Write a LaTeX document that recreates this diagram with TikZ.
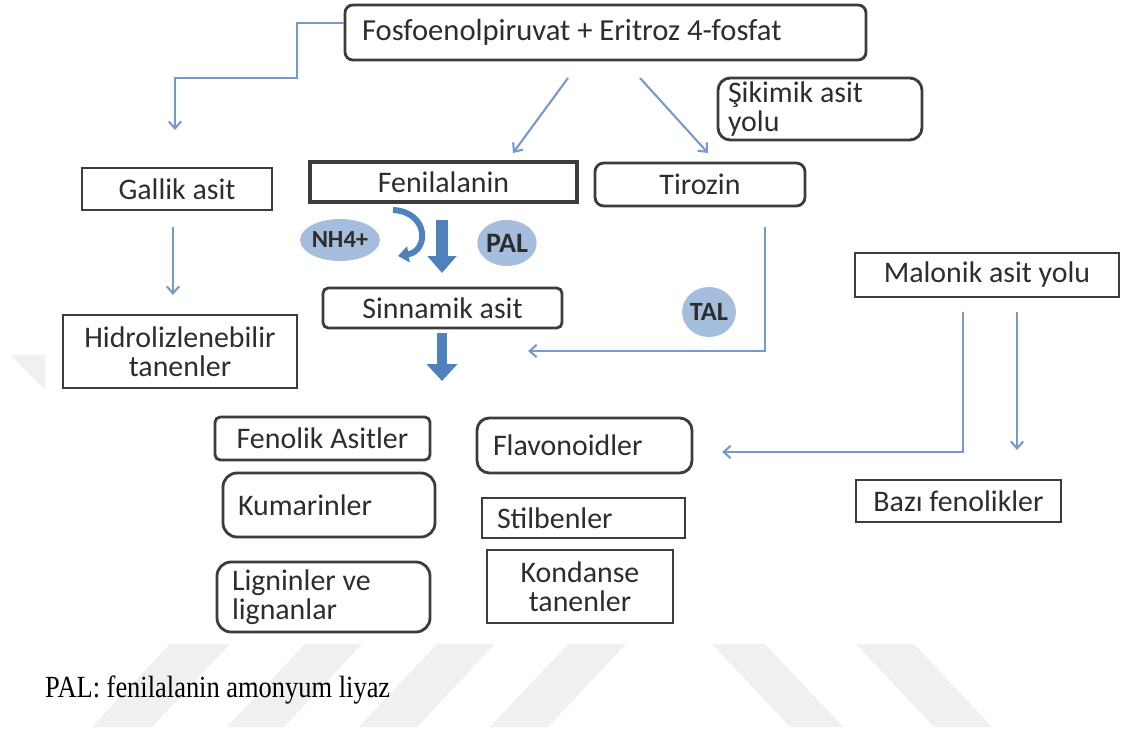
\documentclass[tikz,border=0pt]{standalone}
\usepackage{fontspec}
\setmainfont{Carlito}
\newfontfamily\dipnotfont{Liberation Serif}
\usetikzlibrary{arrows.meta,shapes.geometric,calc}
\definecolor{kenar}{RGB}{60,60,60}
\definecolor{yazi}{RGB}{45,45,45}
\definecolor{ince}{RGB}{120,153,204}
\definecolor{kalin}{RGB}{79,129,189}
\definecolor{balonrenk}{RGB}{166,190,221}
\definecolor{filigran}{RGB}{240,240,240}
\tikzset{
	kutu/.style={draw=kenar, line width=1.6pt, text=yazi, inner sep=0pt, font=\fontsize{17}{16.5}\selectfont, align=center},
	yuvarlak/.style={kutu, rounded corners=5pt},
	solda/.style={align=flush left, inner xsep=0.3cm},
	balon/.style={ellipse, fill=balonrenk, text=yazi, inner sep=0pt, font=\fontsize{15}{15}\selectfont\bfseries},
	okince/.style={draw=ince, line width=1.2pt, -{Straight Barb[length=4pt,width=7pt]}},
	okkalin/.style={draw=kalin, line width=7pt, -{Triangle[length=9.6pt,width=16pt]}}
}

\begin{document}
\begin{tikzpicture}
			%%%%% START %%%%%
			\useasboundingbox (0,0) rectangle (22.46,-14.62);
			
			% filigran
			\fill[filigran] (3.40,-12.88) -- (4.60,-12.88) -- (3.04,-14.54) -- (1.84,-14.54) -- cycle;
			\fill[filigran] (6.10,-12.88) -- (7.24,-12.88) -- (5.68,-14.54) -- (4.54,-14.54) -- cycle;
			\fill[filigran] (8.74,-12.88) -- (9.90,-12.88) -- (8.34,-14.54) -- (7.18,-14.54) -- cycle;
			\fill[filigran] (11.36,-12.88) -- (12.52,-12.88) -- (10.96,-14.54) -- (9.80,-14.54) -- cycle;
			\fill[filigran] (14.24,-12.88) -- (15.30,-12.88) -- (16.86,-14.54) -- (15.80,-14.54) -- cycle;
			\fill[filigran] (17.12,-12.88) -- (18.28,-12.88) -- (19.84,-14.54) -- (18.68,-14.54) -- cycle;
			\fill[filigran] (0.20,-7.10) -- (0.90,-7.10) -- (0.90,-7.80) -- cycle;
			
			% kutular
			\node[yuvarlak, solda, rounded corners=4.5pt, inner xsep=0.34cm, text width=9.74cm, minimum height=1.10cm, font=\fontsize{17.4}{17}\selectfont] (baslangic) at (12.11,-0.65) {Fosfoenolpiruvat + Eritroz 4-fosfat};
			\node[yuvarlak, solda, rounded corners=7pt, inner xsep=0.2cm, text width=3.68cm, minimum height=1.24cm] (sikimik) at (16.40,-2.18) {Şikimik asit\\yolu};
			\node[kutu, minimum width=3.80cm, minimum height=0.84cm] (gallik) at (3.54,-3.78) {Gallik asit};
			\node[kutu, line width=1.8pt, minimum width=5.34cm, minimum height=0.80cm] (fenil) at (8.87,-3.64) {Fenilalanin};
			\node[yuvarlak, minimum width=4.20cm, minimum height=0.86cm] (tirozin) at (14.00,-3.69) {Tirozin};
			\node[kutu, minimum width=4.68cm, minimum height=1.46cm] (hidro) at (3.60,-7.03) {Hidrolizlenebilir\\tanenler};
			\node[yuvarlak, rounded corners=3pt, minimum width=4.78cm, minimum height=0.80cm] (sinnamik) at (8.85,-6.16) {Sinnamik asit};
			\node[kutu, minimum width=5.28cm, minimum height=0.88cm] (malonik) at (19.74,-5.50) {Malonik asit yolu};
			\node[yuvarlak, rounded corners=3pt, minimum width=4.30cm, minimum height=0.86cm] (fenolik) at (6.45,-8.77) {Fenolik Asitler};
			\node[yuvarlak, solda, rounded corners=7pt, inner xsep=0.32cm, text width=3.66cm, minimum height=1.10cm] (flavo) at (11.69,-8.91) {Flavonoidler};
			\node[yuvarlak, solda, rounded corners=8pt, text width=3.64cm, minimum height=1.28cm] (kumarin) at (6.58,-10.10) {Kumarinler};
			\node[kutu, solda, text width=3.46cm, minimum height=0.80cm] (stilben) at (11.67,-10.36) {Stilbenler};
			\node[yuvarlak, solda, rounded corners=8pt, text width=3.66cm, minimum height=1.40cm] (lignin) at (6.47,-11.94) {Ligninler ve\\lignanlar};
			\node[kutu, minimum width=3.72cm, minimum height=1.46cm] (kondanse) at (11.60,-11.73) {Kondanse\\tanenler};
			\node[kutu, minimum width=4.10cm, minimum height=0.84cm] (bazi) at (19.17,-10.02) {Bazı fenolikler};
			
			% enzimler
			\node[balon, minimum width=1.56cm, minimum height=0.84cm, font=\fontsize{14}{14}\selectfont\bfseries] (nh) at (6.80,-4.80) {NH4+};
			\node[balon, minimum width=1.08cm, minimum height=0.92cm, font=\fontsize{16}{16}\selectfont\bfseries] (pal) at (10.14,-4.86) {PAL};
			\node[balon, minimum width=1.04cm, minimum height=1.00cm] (tal) at (14.18,-6.24) {TAL};
			
			% ok uclari
			\coordinate (g0) at ($(baslangic.west)+(0,0.19)$);
			\coordinate (g1) at (3.50,-2.60);
			\coordinate (f0) at (11.36,-1.56);
			\coordinate (f1) at (10.26,-3.06);
			\coordinate (t0) at (12.80,-1.56);
			\coordinate (t1) at (14.16,-3.06);
			\coordinate (h0) at (3.46,-4.54);
			\coordinate (h1) at (3.46,-5.90);
			\coordinate (z0) at (15.30,-4.54);
			\coordinate (z1) at (10.56,-7.02);
			\coordinate (m0) at (19.26,-6.24);
			\coordinate (m1) at (14.44,-9.04);
			\coordinate (b0) at (20.34,-6.24);
			\coordinate (b1) at (20.34,-9.00);
			\coordinate (k0) at (8.84,-4.40);
			\coordinate (k1) at (8.84,-5.46);
			\coordinate (s0) at (8.84,-6.66);
			\coordinate (s1) at (8.84,-7.62);
			\coordinate (n0) at (7.86,-4.20);
			\coordinate (n1) at (7.96,-5.12);
			
			% ince oklar
			\draw[okince] (g0) -| (5.94,-1.56) -| (g1);
			\draw[okince] (f0) -- (f1);
			\draw[okince] (t0) -- (t1);
			\draw[okince] (h0) -- (h1);
			\draw[okince] (z0) |- (z1);
			\draw[okince] (m0) |- (m1);
			\draw[okince] (b0) -- (b1);
			
			% kalin oklar
			\draw[okkalin] (k0) -- (k1);
			\draw[okkalin, line width=6pt, -{Triangle[length=9.6pt,width=17pt]}] (s0) -- (s1);
			\draw[draw=kalin, line width=3.4pt, -{Triangle[length=6pt,width=9pt]}] (n0) .. controls (8.58,-4.24) and (8.58,-5.02) .. (n1);
			
			\node[anchor=west, font=\dipnotfont\fontsize{17.5}{17.5}\selectfont] (dipnot) at (0.78,-13.80) {\scalebox{0.86}[1]{PAL: fenilalanin amonyum liyaz}};
			%%%%% END %%%%%
\end{tikzpicture}
\end{document}
